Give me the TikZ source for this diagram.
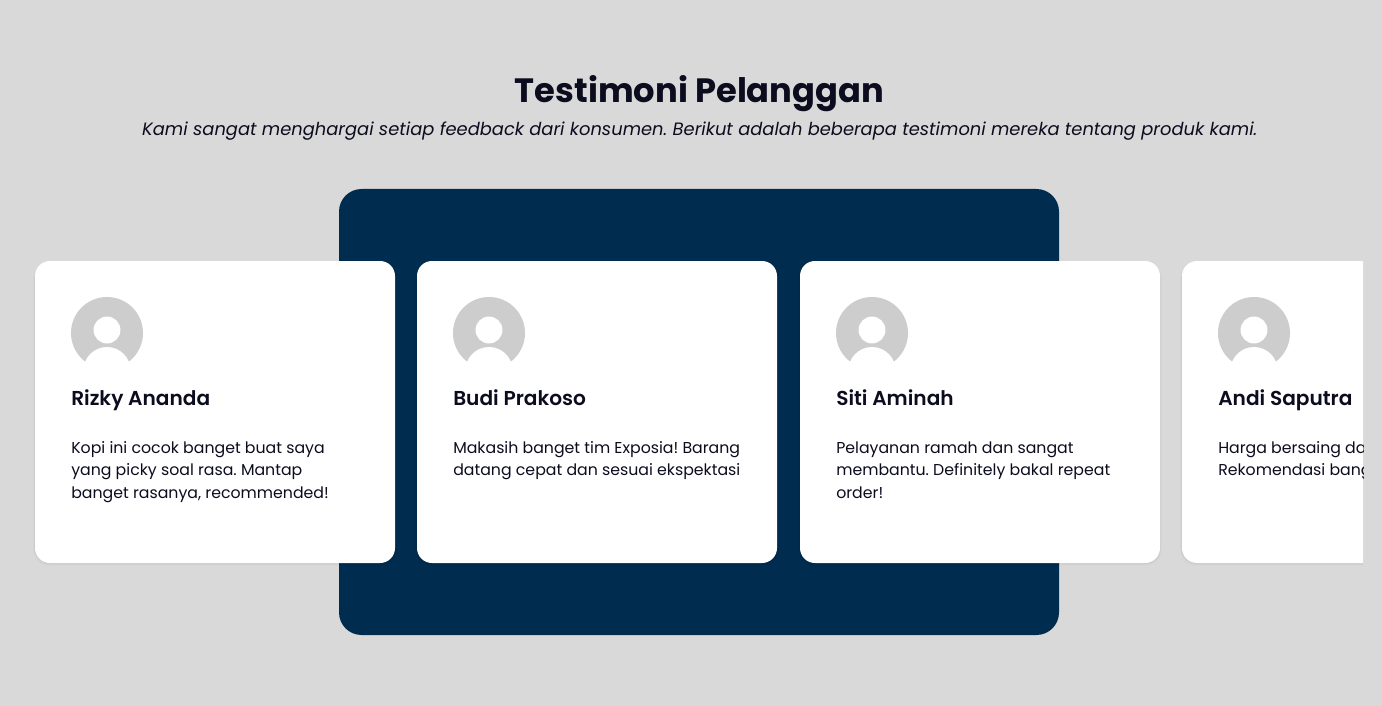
\documentclass[tikz,border=0pt]{standalone}
\usepackage{fontspec}
\setmainfont{Poppins}
\newfontfamily\semib{Poppins SemiBold}
\frenchspacing
\definecolor{pagebg}{HTML}{D9D9D9}
\definecolor{navy}{HTML}{002C4F}
\definecolor{ink}{HTML}{0C0C1F}
\definecolor{avatar}{HTML}{CDCDCD}
\tikzset{
  x=0.75pt,y=-0.75pt,
  titletext/.style={inner sep=0pt,text=ink,font=\bfseries\fontsize{25.3}{30}\selectfont},
  subtext/.style={inner sep=0pt,text=ink,font=\itshape\fontsize{13.4}{18}\selectfont},
  nametext/.style={anchor=base west,inner sep=0pt,text=ink,font=\semib\fontsize{15.1}{20}\selectfont},
  bodytext/.style={anchor=base west,inner sep=0pt,text=ink,font=\fontsize{11.82}{16.8}\selectfont},
}
\newcommand{\card}[3]{%
  \foreach \k/\o in {5/0.012,3/0.02,1.5/0.03}{\fill[black,opacity=\o,rounded corners=12pt] (#1-\k*0.4,263) rectangle (#1+360+\k*0.4,563+\k*0.6);}
  \fill[white,rounded corners=11.25pt] (#1,261) rectangle (#1+360,563);
  \fill[avatar] (#1+72,333) circle[radius=27pt];
  \fill[white] (#1+72,330) circle[radius=10.1pt];
  \fill[white] (#1+72,370.6) circle[radius=17.7pt];
  \fill[white] (#1+36,362) rectangle (#1+108,370);
  \node[nametext] (name#2) at (#1+36,405) {#3};
}
\begin{document}
\begin{tikzpicture}
\useasboundingbox (0,0) rectangle (1382,706);
\fill[pagebg] (0,0) rectangle (1382,706);
\node[titletext] (title) at (699.5,94) {Testimoni Pelanggan};
\node[subtext] (subtitle) at (699.8,131) {Kami sangat menghargai setiap feedback dari konsumen. Berikut adalah beberapa testimoni mereka tentang produk kami.};
\fill[navy,rounded corners=16.9pt] (339,189) rectangle (1059,635);
\begin{scope}
\clip (0,0) rectangle (1363,706);
\card{35}{a}{Rizky Ananda}
\node[bodytext] (a1) at (71,453) {Kopi ini cocok banget buat saya};
\node[bodytext] (a2) at (71,475) {yang picky soal rasa. Mantap};
\node[bodytext] (a3) at (71,498) {banget rasanya, recommended!};
\card{417}{b}{Budi Prakoso}
\node[bodytext] (b1) at (453,453) {Makasih banget tim Exposia! Barang};
\node[bodytext] (b2) at (453,475) {datang cepat dan sesuai ekspektasi};
\card{800}{c}{Siti Aminah}
\node[bodytext] (c1) at (836,453) {Pelayanan ramah dan sangat};
\node[bodytext] (c2) at (836,475) {membantu. Definitely bakal repeat};
\node[bodytext] (c3) at (836,498) {order!};
\card{1182}{d}{Andi Saputra}
\node[bodytext] (d1) at (1218,453) {Harga bersaing dan};
\node[bodytext] (d2) at (1218,475) {Rekomendasi banget};
\end{scope}
\end{tikzpicture}
\end{document}
